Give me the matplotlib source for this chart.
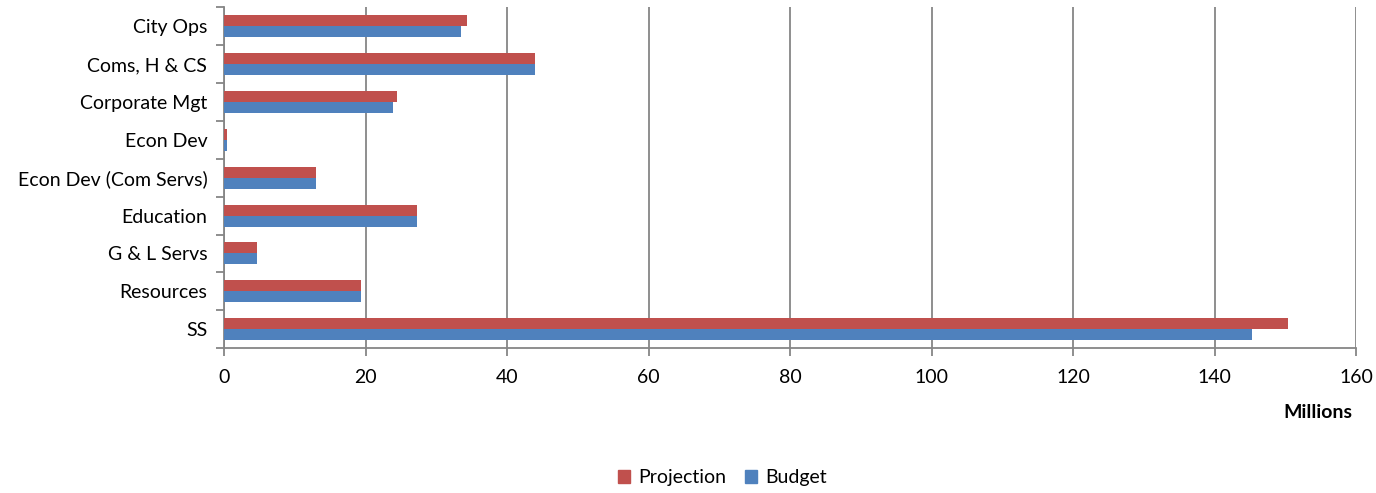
import numpy as np
import matplotlib.pyplot as plt
from matplotlib.patches import Patch

plt.rcParams['font.family'] = ['Lato', 'DejaVu Sans']

categories = ['City Ops', 'Coms, H & CS', 'Corporate Mgt', 'Econ Dev',
              'Econ Dev (Com Servs)', 'Education', 'G & L Servs',
              'Resources', 'SS']
projection = [34.4, 43.9, 24.5, 0.4, 13.0, 27.3, 4.7, 19.3, 150.4]
budget = [33.5, 43.9, 23.9, 0.4, 13.0, 27.3, 4.7, 19.3, 145.3]
xticks = [0, 20, 40, 60, 80, 100, 120, 140, 160]

red = '#C0504D'
blue = '#4F81BD'
grey = '#868686'
fs = 14

fig = plt.figure(figsize=(13.76, 4.93), dpi=100)
ax = fig.add_axes([0.1628, 0.2941, 0.9855 - 0.1628, 0.9848 - 0.2941])

y = np.arange(len(categories))
h = 0.29
ax.barh(y - h / 2, projection, height=h, color=red, zorder=3)
ax.barh(y + h / 2, budget, height=h, color=blue, zorder=3)

ax.set_ylim(len(categories) - 0.5, -0.5)
ax.set_xlim(0, 160)
ax.set_xticks(xticks)
ax.set_xticklabels([str(v) for v in xticks], fontsize=fs)
ax.set_yticks(y)
ax.set_yticklabels(categories, fontsize=fs)
ax.set_yticks(np.arange(-0.5, len(categories)), minor=True)
ax.tick_params(axis='y', which='major', length=0, pad=12)
ax.tick_params(axis='y', which='minor', length=6, width=1.3, color=grey)
ax.tick_params(axis='x', length=6, width=1.3, color=grey, pad=9)

ax.grid(axis='x', color=grey, lw=1.3, zorder=0)
for s in ['top', 'right']:
    ax.spines[s].set_visible(False)
for s in ['left', 'bottom']:
    ax.spines[s].set_color(grey)
    ax.spines[s].set_linewidth(1.3)

fig.text(0.983, 1 - 412 / 493, 'Millions', ha='right', va='center',
         fontsize=fs, fontweight='bold')

handles = [Patch(color=red, label='Projection'), Patch(color=blue, label='Budget')]
fig.legend(handles=handles, loc='center', bbox_to_anchor=(0.525, 1 - 478 / 493),
           ncol=2, frameon=False, fontsize=fs, handlelength=0.6, handleheight=0.6,
           handletextpad=0.4, columnspacing=1.0)

plt.savefig('out.png', dpi=100)
